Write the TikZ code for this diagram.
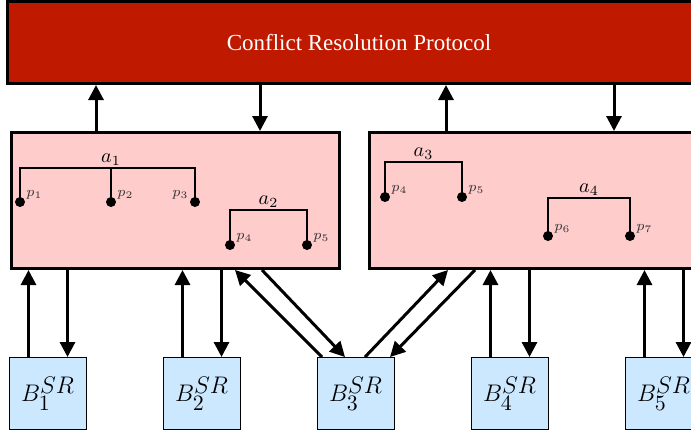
\documentclass[tikz,border=0pt]{standalone}
\usepackage{fontspec}
\newfontfamily\crpfont{Liberation Serif}
\usetikzlibrary{arrows.meta, calc}
\DeclareMathSizes{12}{12}{10.95}{8}
\definecolor{crpcol}{HTML}{BF1A00}
\definecolor{agcol} {HTML}{FFCCCC}
\definecolor{srcol} {HTML}{CCE8FF}
\tikzset{
  crpbox/.style={rectangle, draw, line width=1.5pt, fill=crpcol, minimum width=351.5pt, minimum height=41pt, text=white, font=\crpfont\fontsize{11.5}{13}\selectfont},
  agbox/.style={rectangle, draw, line width=1.5pt, fill=agcol, minimum width=164pt, minimum height=68pt},
  srbox/.style={rectangle, draw, line width=0.5pt, fill=srcol, minimum width=38.5pt, minimum height=36pt, inner sep=0pt, font=\large},
  dot/.style={circle, fill, inner sep=0pt, minimum size=5pt},
  plab/.style={font=\fontsize{7}{8}\selectfont, inner sep=0.5pt, text=black!80},
  alab/.style={above, inner sep=1pt, font=\normalsize},
  arr/.style={-{Triangle[length=7.5pt, width=7.5pt]}, line width=1.5pt},
  brk/.style={line width=1pt},
}

\begin{document}
\begin{tikzpicture}[x=0.5pt, y=-0.5pt]
  \clip (0,0) rectangle (691,435);
  \node[crpbox] (crp) at (359,42.5) {Conflict Resolution Protocol};
  \node[agbox] (L) at (175.5,200.5) {};
  \node[agbox] (R) at (533.5,200.5) {};
  \foreach \i/\x in {1/48, 2/202, 3/356, 4/510, 5/664}
    \node[srbox] (B\i) at (\x,393.5) {$B^{\textstyle SR}_{\i}$};

  % left agent group
  \node[dot, label={[plab]20:$p_1$}]  (lp1) at (20,202) {};
  \node[dot, label={[plab]20:$p_2$}]  (lp2) at (111,202) {};
  \node[dot, label={[plab]160:$p_3$}] (lp3) at (195,202) {};
  \node[dot, label={[plab]20:$p_4$}]  (lp4) at (230,245) {};
  \node[dot, label={[plab]20:$p_5$}]  (lp5) at (307,245) {};
  \coordinate (ta1) at (111,168);
  \coordinate (ta2) at (268.5,210);
  \node[alab] (a1) at (ta1) {$a_1$};
  \node[alab] (a2) at (ta2) {$a_2$};
  \draw[brk] (lp1.center) |- (ta1) -| (lp3.center);
  \draw[brk] (ta1) -- (lp2.center);
  \draw[brk] (lp4.center) |- (ta2) -| (lp5.center);

  % right agent group
  \node[dot, label={[plab]20:$p_4$}] (rp4) at (385,197) {};
  \node[dot, label={[plab]20:$p_5$}] (rp5) at (462,197) {};
  \node[dot, label={[plab]20:$p_6$}] (rp6) at (548,236) {};
  \node[dot, label={[plab]20:$p_7$}] (rp7) at (630,236) {};
  \coordinate (ta3) at (423.5,162);
  \coordinate (ta4) at (589,198);
  \node[alab] (a3) at (ta3) {$a_3$};
  \node[alab] (a4) at (ta4) {$a_4$};
  \draw[brk] (rp4.center) |- (ta3) -| (rp5.center);
  \draw[brk] (rp6.center) |- (ta4) -| (rp7.center);

  % to and from the protocol
  \foreach \n/\u/\d in {L/-79.5/84.5, R/-87.5/80.5}{
    \coordinate (\n u) at ($(\n.north)+(\u,0)$);
    \coordinate (\n d) at ($(\n.north)+(\d,0)$);
    \draw[arr] (\n u) -- (\n u |- crp.south);
    \draw[arr] (\n d |- crp.south) -- (\n d);
  }

  % SR buffers
  \foreach \i/\m in {1/L, 2/L, 4/R, 5/R}{
    \coordinate (bu\i) at ($(B\i.north)+(-19.5,0)$);
    \coordinate (bd\i) at ($(B\i.north)+(19.5,0)$);
    \draw[arr] (bu\i) -- (bu\i |- \m.south);
    \draw[arr] (bd\i |- \m.south) -- (bd\i);
  }
  \draw[arr] ($(B3.north)+(-34,0)$) -- ($(L.south)+(59.5,0)$);
  \draw[arr] ($(L.south)+(86.5,0)$) -- ($(B3.north)+(-11,0)$);
  \draw[arr] ($(B3.north)+(9,0)$) -- ($(R.south)+(-85.5,0)$);
  \draw[arr] ($(R.south)+(-58.5,0)$) -- ($(B3.north)+(34,0)$);
\end{tikzpicture}
\end{document}
